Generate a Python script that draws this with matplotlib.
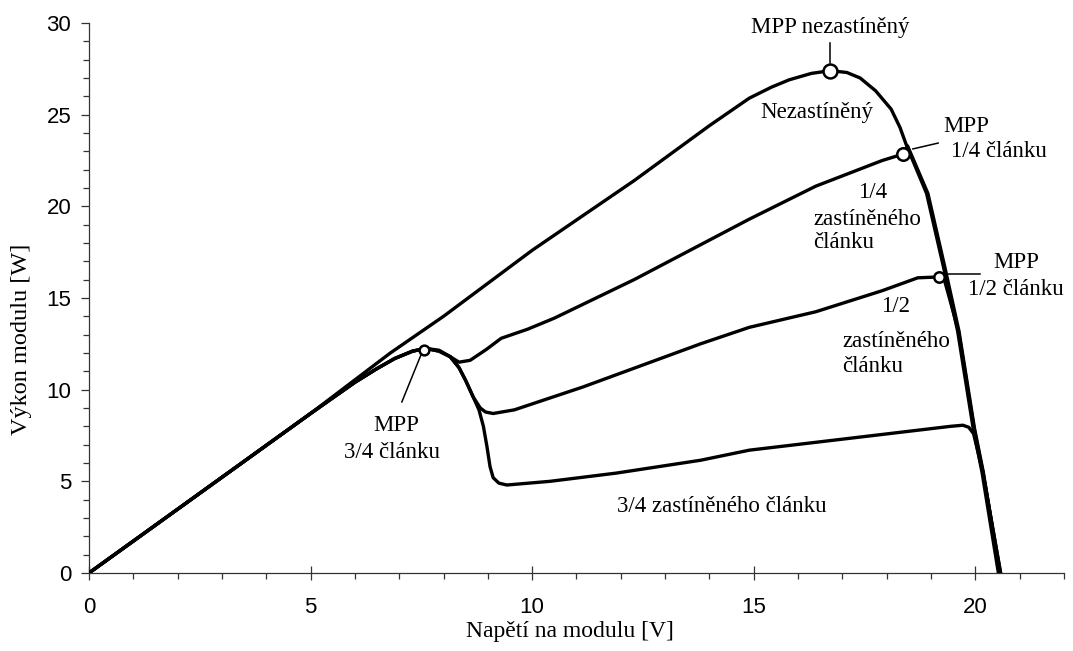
import matplotlib.pyplot as plt
from matplotlib.ticker import MultipleLocator

# P-V krivky FV modulu pri ruznem zastineni jednoho clanku
v_full = [0, 2.5, 5, 6.8, 8, 10, 12.3, 14.0, 14.9, 15.4, 15.8, 16.3, 16.73,
          17.1, 17.4, 17.75, 18.1, 18.3, 18.45, 18.9, 19.28, 19.6, 19.95,
          20.15, 20.52]
p_full = [0, 4.35, 8.7, 12.0, 14.0, 17.6, 21.4, 24.4, 25.9, 26.5, 26.9,
          27.25, 27.4, 27.3, 27.0, 26.3, 25.3, 24.3, 23.3, 20.7, 16.7, 13.2,
          7.9, 5.5, 0]

v_q14 = [0, 2.5, 5, 6.0, 6.5, 6.9, 7.3, 7.6, 7.9, 8.15, 8.35, 8.6, 8.97,
         9.3, 9.9, 10.5, 12.3, 14.9, 16.4, 17.9, 18.37, 18.47, 18.93, 19.31,
         19.63, 19.98, 20.18, 20.55]
p_q14 = [0, 4.35, 8.7, 10.4, 11.15, 11.7, 12.1, 12.25, 12.15, 11.8, 11.5,
         11.6, 12.2, 12.8, 13.3, 13.9, 16.0, 19.3, 21.1, 22.5, 22.85, 23.3,
         20.7, 16.7, 13.2, 7.9, 5.5, 0]

v_q12 = [0, 2.5, 5, 6.0, 6.5, 6.9, 7.3, 7.6, 7.9, 8.15, 8.35, 8.5, 8.67,
         8.83, 8.95, 9.12, 9.6, 11.15, 13.8, 14.9, 16.4, 17.9, 18.7, 19.19,
         19.3, 19.62, 19.97, 20.17, 20.57]
p_q12 = [0, 4.35, 8.7, 10.4, 11.15, 11.7, 12.1, 12.25, 12.1, 11.8, 11.2,
         10.5, 9.6, 9.0, 8.78, 8.7, 8.9, 10.15, 12.5, 13.4, 14.25, 15.4,
         16.1, 16.15, 16.0, 13.2, 7.9, 5.5, 0]

v_q34 = [0, 2.5, 5, 6.0, 6.5, 6.9, 7.3, 7.6, 7.9, 8.15, 8.35, 8.5, 8.67,
         8.8, 8.9, 8.98, 9.05, 9.12, 9.25, 9.43, 10.4, 11.9, 13.8, 14.9, 17.0,
         19.44, 19.72, 19.85, 19.96, 20.17, 20.57]
p_q34 = [0, 4.35, 8.7, 10.4, 11.15, 11.7, 12.1, 12.25, 12.1, 11.8, 11.2,
         10.5, 9.6, 8.9, 8.0, 6.9, 5.8, 5.2, 4.9, 4.8, 5.0, 5.45, 6.15, 6.7,
         7.3, 8.0, 8.06, 7.95, 7.6, 5.5, 0]

# body maximalniho vykonu (MPP)
mpp_v = [16.73, 18.37, 19.19, 7.56]
mpp_p = [27.4, 22.86, 16.16, 12.17]
mpp_size = [10, 9, 7.5, 7]

plt.rcParams['font.family'] = ['Liberation Serif', 'DejaVu Serif']

fig = plt.figure(figsize=(10.73, 6.51), dpi=100)
ax = fig.add_axes([0.0829, 0.1198, 0.9087, 0.8449])

for v, p in [(v_full, p_full), (v_q14, p_q14), (v_q12, p_q12), (v_q34, p_q34)]:
    ax.plot(v, p, color='black', lw=2.4, solid_joinstyle='round', zorder=3)

for v, p, s in zip(mpp_v, mpp_p, mpp_size):
    ax.plot(v, p, 'o', ms=s, mfc='white', mec='black', mew=1.8, zorder=5)

# odkazove cary k popiskum MPP
leader = dict(color='black', lw=1.1, zorder=2)
ax.plot([16.73, 16.73], [27.8, 28.9], **leader)
ax.plot([18.59, 19.16], [23.13, 23.45], **leader)
ax.plot([19.36, 20.1], [16.31, 16.31], **leader)
ax.plot([7.49, 7.06], [11.89, 9.33], **leader)

fs = 16.5
txt = dict(fontsize=fs, ha='center', va='center')
ax.text(16.72, 29.73, 'MPP nezastíněný', **txt)
ax.text(16.43, 25.1, 'Nezastíněný', **txt)
ax.text(19.79, 24.38, 'MPP', **txt)
ax.text(20.53, 22.97, '1/4 článku', **txt)
ax.text(20.92, 16.91, 'MPP', **txt)
ax.text(20.92, 15.49, '1/2 článku', **txt)
ax.text(6.93, 8.02, 'MPP', **txt)
ax.text(6.84, 6.6, '3/4 článku', **txt)
ax.text(17.69, 20.78, '1/4', **txt)
ax.text(16.34, 19.26, 'zastíněného', fontsize=fs, ha='left', va='center')
ax.text(16.34, 18.0, 'článku', fontsize=fs, ha='left', va='center')
ax.text(18.19, 14.51, '1/2', **txt)
ax.text(16.99, 12.65, 'zastíněného', fontsize=fs, ha='left', va='center')
ax.text(16.99, 11.29, 'článku', fontsize=fs, ha='left', va='center')
ax.text(11.91, 3.65, '3/4 zastíněného článku', fontsize=fs, ha='left', va='center')

ax.set_xlim(0, 22)
ax.set_ylim(0, 30)
ax.xaxis.set_major_locator(MultipleLocator(5))
ax.xaxis.set_minor_locator(MultipleLocator(1))
ax.yaxis.set_major_locator(MultipleLocator(5))
ax.yaxis.set_minor_locator(MultipleLocator(1))

for side in ['top', 'right']:
    ax.spines[side].set_visible(False)
for side in ['left', 'bottom']:
    ax.spines[side].set_color('#333333')
    ax.spines[side].set_linewidth(0.9)

ax.tick_params(axis='x', which='major', direction='inout', length=10, width=0.9,
               pad=12, colors='#333333', labelcolor='black')
ax.tick_params(axis='x', which='minor', direction='out', length=4.3, width=0.9,
               colors='#333333')
ax.tick_params(axis='y', which='major', direction='out', length=5.8, width=0.9,
               pad=7, colors='#333333', labelcolor='black')
ax.tick_params(axis='y', which='minor', direction='out', length=4.3, width=0.9,
               colors='#333333')
for lab in ax.get_xticklabels() + ax.get_yticklabels():
    lab.set_fontfamily('Liberation Sans')
    lab.set_fontsize(16)

ax.set_xlabel('Napětí na modulu [V]', fontsize=17)
ax.set_ylabel('Výkon modulu [W]', fontsize=17.5)
ax.xaxis.set_label_coords(0.493, -0.087)
ax.yaxis.set_label_coords(-0.058, 0.425)

plt.savefig('out.png', dpi=100)
